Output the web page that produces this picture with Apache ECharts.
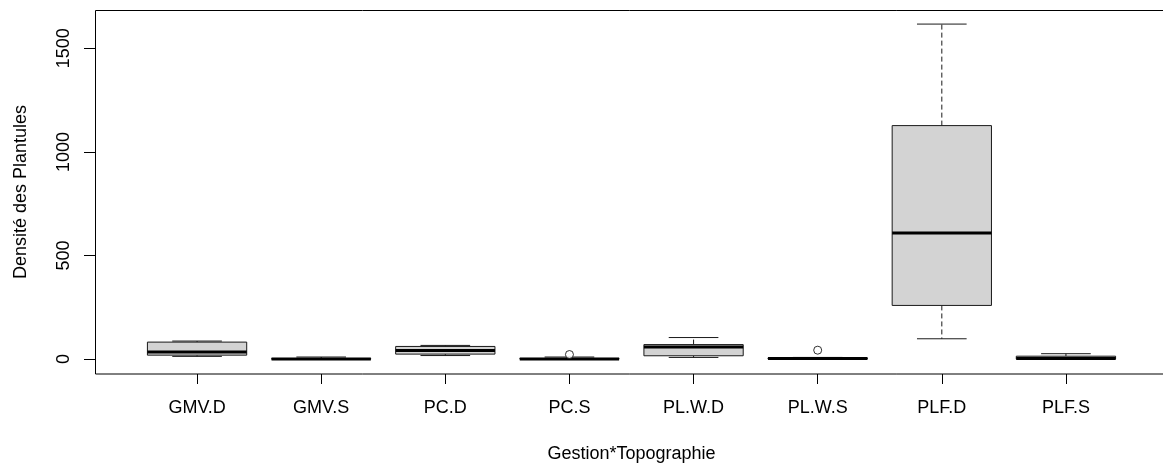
<!DOCTYPE html>
<html>
<head>
<meta charset="utf-8">
<script src="https://cdn.jsdelivr.net/npm/echarts@6/dist/echarts.min.js"></script>
<style>
  html, body { margin: 0; padding: 0; background: #fff; }
  #chart { width: 1163px; height: 468px; }
</style>
</head>
<body>
<div id="chart"></div>
<script>
// boxplot stats
const categories = ['GMV.D', 'GMV.S', 'PC.D', 'PC.S', 'PL.W.D', 'PL.W.S', 'PLF.D', 'PLF.S'];
const lowWhisker = [13, 0, 17, 0, 8, 0, 98, 0];
const q1 = [19, 0, 24, 0, 16, 0, 259, 0];
const median = [34, 0, 42, 1, 58, 3, 608, 3];
const q3 = [82, 2, 61, 3, 70, 6, 1127, 14];
const highWhisker = [87, 10, 66, 10, 104, 8, 1617, 26];
const outlierCat = ['PC.S', 'PL.W.S'];
const outlierVal = [22, 43];
const yTicks = [0, 500, 1000, 1500];

const font = 'Liberation Sans, Arial, sans-serif';
const chart = echarts.init(document.getElementById('chart'));

const boxData = categories.map((c, i) => [i, lowWhisker[i], q1[i], median[i], q3[i], highWhisker[i]]);

const renderBox = (params, api) => {
  const idx = api.value(0);
  const band = api.size([1, 0])[0];
  const half = band * 0.4;
  const capHalf = band * 0.2;
  const pLow = api.coord([idx, api.value(1)]);
  const pQ1 = api.coord([idx, api.value(2)]);
  const pMed = api.coord([idx, api.value(3)]);
  const pQ3 = api.coord([idx, api.value(4)]);
  const pHigh = api.coord([idx, api.value(5)]);
  const cx = pMed[0];
  const lineCol = '#1a1a1a';
  return {
    type: 'group',
    children: [
      // whiskers (dashed)
      { type: 'line', shape: { x1: cx, y1: pQ3[1], x2: cx, y2: pHigh[1] },
        style: { stroke: lineCol, lineWidth: 1, lineDash: [5, 3] } },
      { type: 'line', shape: { x1: cx, y1: pQ1[1], x2: cx, y2: pLow[1] },
        style: { stroke: lineCol, lineWidth: 1, lineDash: [5, 3] } },
      // caps
      { type: 'line', shape: { x1: cx - capHalf, y1: pHigh[1], x2: cx + capHalf, y2: pHigh[1] },
        style: { stroke: lineCol, lineWidth: 1 } },
      { type: 'line', shape: { x1: cx - capHalf, y1: pLow[1], x2: cx + capHalf, y2: pLow[1] },
        style: { stroke: lineCol, lineWidth: 1 } },
      // box
      { type: 'rect', shape: { x: cx - half, y: pQ3[1], width: half * 2, height: pQ1[1] - pQ3[1] },
        style: { fill: '#d3d3d3', stroke: lineCol, lineWidth: 1 } },
      // median
      { type: 'line', shape: { x1: cx - half, y1: pMed[1], x2: cx + half, y2: pMed[1] },
        style: { stroke: '#000', lineWidth: 3 } }
    ]
  };
};

// y tick marks: axisTick would not show, so draw them at the frame's left edge
const renderYTick = (params, api) => {
  const p = api.coord([0, api.value(1)]);
  const band = api.size([1, 0])[0];
  const x0 = Math.round(p[0] - band * 0.82);
  const y = Math.round(p[1]) + 0.5;
  return {
    type: 'line',
    shape: { x1: x0 - 11, y1: y, x2: x0, y2: y },
    style: { stroke: '#000', lineWidth: 1 }
  };
};

const options = {
  animation: false,
  textStyle: { fontFamily: font },
  grid: { left: 135, right: 35, top: 10, bottom: 94 },
  graphic: [{
    type: 'rect',
    shape: { x: 95.5, y: 10.5, width: 1080, height: 363.5 },
    style: { fill: 'none', stroke: '#000', lineWidth: 1 },
    silent: true,
    z: 10
  }],
  xAxis: {
    type: 'category',
    data: categories,
    boundaryGap: true,
    name: 'Gestion*Topographie',
    nameLocation: 'middle',
    nameGap: 71,
    nameTextStyle: { color: '#000', fontSize: 18, fontFamily: font },
    axisLine: { show: false, onZero: false },
    axisTick: { show: true, alignWithLabel: true, length: 10, lineStyle: { color: '#000' } },
    axisLabel: { color: '#000', fontSize: 18, margin: 25, fontFamily: font },
    splitLine: { show: false }
  },
  yAxis: {
    type: 'value',
    min: -72,
    max: 1685,
    offset: 40,
    name: 'Densité des Plantules',
    nameLocation: 'middle',
    nameGap: 65,
    nameTextStyle: { color: '#000', fontSize: 18, fontFamily: font },
    axisLine: { show: false },
    axisTick: { show: false },
    axisLabel: {
      color: '#000', fontSize: 18, rotate: 90, margin: 22, customValues: yTicks, fontFamily: font,
      formatter: (v) => String(v)
    },
    splitLine: { show: false }
  },
  series: [{
    type: 'custom',
    renderItem: renderBox,
    encode: { x: 0, y: [1, 2, 3, 4, 5] },
    data: boxData,
    clip: false
  }, {
    type: 'scatter',
    symbol: 'circle',
    symbolSize: 8,
    itemStyle: { color: '#fff', borderColor: '#000', borderWidth: 1 },
    data: outlierCat.map((c, i) => [c, outlierVal[i]]),
    z: 5
  }, {
    type: 'custom',
    renderItem: renderYTick,
    encode: { x: 0, y: 1 },
    data: yTicks.map((v) => [0, v]),
    clip: false,
    silent: true
  }]
};
chart.setOption(options);
</script>
</body>
</html>
